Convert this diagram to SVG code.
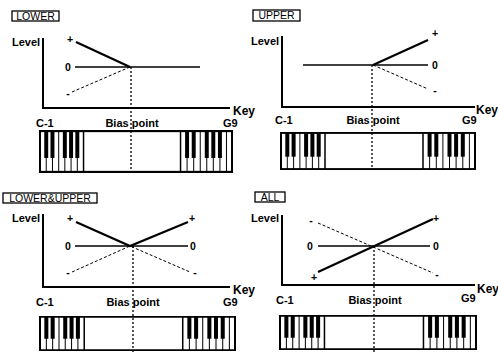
<svg xmlns="http://www.w3.org/2000/svg" xmlns:xlink="http://www.w3.org/1999/xlink" width="498" height="354" viewBox="0 0 498 354">
<style>
text{font-family:"Liberation Sans",Arial,sans-serif;fill:#000}
.b{font-weight:bold;font-size:11px}
.s{font-weight:bold;font-size:10.5px;text-anchor:middle}
.tag{font-size:10.5px;text-anchor:middle}
.key{font-weight:bold;font-size:12px}
.box{fill:none;stroke:#000;stroke-width:1.3}
.ax{fill:none;stroke:#000;stroke-width:2}
.thick{fill:none;stroke:#000;stroke-width:2.2}
.solid{fill:none;stroke:#000;stroke-width:1.5}
.dash{fill:none;stroke:#000;stroke-width:1;stroke-dasharray:3 2}
.dot{fill:none;stroke:#000;stroke-width:1.3;stroke-dasharray:2 2}
</style>
<defs>
<symbol id="kbd" viewBox="0 0 196 40" preserveAspectRatio="none">
<rect x="1" y="1" width="194" height="38" fill="#fff" stroke="#000" stroke-width="2"/>
<g stroke="#000" stroke-width="1">
<path d="M7.3,1V39M13.6,1V39M19.9,1V39M26.1,1V39M32.4,1V39M38.7,1V39"/>
<path d="M149.6,1V39M156.3,1V39M162.9,1V39M169.5,1V39M176.1,1V39M182.8,1V39M189.4,1V39"/>
<path d="M45,1V39M143,1V39" stroke-width="1.5"/>
</g>
<g fill="#000">
<rect x="5.3" y="1" width="4" height="25"/>
<rect x="11.6" y="1" width="4" height="25"/>
<rect x="24.1" y="1" width="4" height="25"/>
<rect x="30.4" y="1" width="4" height="25"/>
<rect x="36.7" y="1" width="4" height="25"/>
<rect x="147.6" y="1" width="4" height="25"/>
<rect x="154.3" y="1" width="4" height="25"/>
<rect x="167.5" y="1" width="4" height="25"/>
<rect x="174.1" y="1" width="4" height="25"/>
<rect x="180.8" y="1" width="4" height="25"/>
</g>
</symbol>
</defs>

<g id="panel-lower">
<rect class="box" x="12" y="11" width="47" height="10"/>
<text class="tag" x="35.5" y="19.8">LOWER</text>
<text class="b" x="12" y="46">Level</text>
<path class="ax" d="M43,38V108H230"/>
<text class="key" x="233" y="115">Key</text>
<text class="s" x="70" y="43">+</text>
<text class="s" x="68" y="70.5">0</text>
<text class="s" x="68" y="97">-</text>
<text class="b" x="36" y="127">C-1</text>
<text class="b" x="132" y="127" text-anchor="middle">Bias point</text>
<text class="b" x="223" y="127">G9</text>
<use xlink:href="#kbd" x="39" y="130" width="194" height="43"/>
</g>

<g id="panel-upper">
<rect class="box" x="253" y="10" width="47" height="11"/>
<text class="tag" x="276.5" y="19.3">UPPER</text>
<text class="b" x="251" y="45">Level</text>
<path class="ax" d="M282,36V107H475"/>
<text class="key" x="476" y="114">Key</text>
<text class="s" x="435" y="37">+</text>
<text class="s" x="435" y="68.5">0</text>
<text class="s" x="435" y="94">-</text>
<text class="b" x="275" y="124">C-1</text>
<text class="b" x="373" y="124" text-anchor="middle">Bias point</text>
<text class="b" x="462" y="124">G9</text>
<use xlink:href="#kbd" x="280" y="132" width="196" height="38"/>
</g>

<g id="panel-lower-upper">
<rect class="box" x="3" y="193" width="94" height="10"/>
<text class="tag" x="50" y="201.8">LOWER&amp;UPPER</text>
<text class="b" x="12" y="222">Level</text>
<path class="ax" d="M43,214V287H230"/>
<text class="key" x="233" y="294">Key</text>
<text class="s" x="70" y="222">+</text>
<text class="s" x="192" y="222">+</text>
<text class="s" x="68" y="249.5">0</text>
<text class="s" x="193" y="249.5">0</text>
<text class="s" x="68" y="276">-</text>
<text class="s" x="195" y="276">-</text>
<text class="b" x="36" y="306">C-1</text>
<text class="b" x="133" y="306" text-anchor="middle">Bias point</text>
<text class="b" x="223" y="306">G9</text>
<use xlink:href="#kbd" x="39" y="316" width="197" height="35"/>
</g>

<g id="panel-all">
<rect class="box" x="255" y="192" width="30" height="10"/>
<text class="tag" x="270" y="200.8">ALL</text>
<text class="b" x="251" y="222">Level</text>
<path class="ax" d="M282,215V285H475"/>
<text class="key" x="477" y="293">Key</text>
<text class="s" x="311" y="224">-</text>
<text class="s" x="437" y="278">-</text>
<text class="s" x="314" y="281">+</text>
<text class="s" x="436" y="222">+</text>
<text class="s" x="310" y="249.5">0</text>
<text class="s" x="436" y="249.5">0</text>
<text class="b" x="276" y="304">C-1</text>
<text class="b" x="375" y="304" text-anchor="middle">Bias point</text>
<text class="b" x="461" y="302">G9</text>
<use xlink:href="#kbd" x="279" y="315" width="198" height="35"/>
</g>

<g id="connectors">
<path class="thick" d="M76,42L130,67"/>
<path class="solid" d="M75,67H200"/>
<path class="dash" d="M72,92L130,67"/>
<path class="dot" d="M131,67V173"/>

<path class="thick" d="M373,65L428,40"/>
<path class="solid" d="M303,65H428"/>
<path class="dash" d="M373,65L428,89"/>
<path class="dot" d="M372,65V170"/>

<path class="thick" d="M76,222L130,246L188,222"/>
<path class="solid" d="M75,246H188"/>
<path class="dash" d="M72,272L130,246L190,272"/>
<path class="dot" d="M133,246V352"/>

<path class="thick" d="M318,272L433,219"/>
<path class="solid" d="M318,246H430"/>
<path class="dash" d="M318,223L433,273"/>
<path class="dot" d="M374,246V352"/>
</g>
</svg>
